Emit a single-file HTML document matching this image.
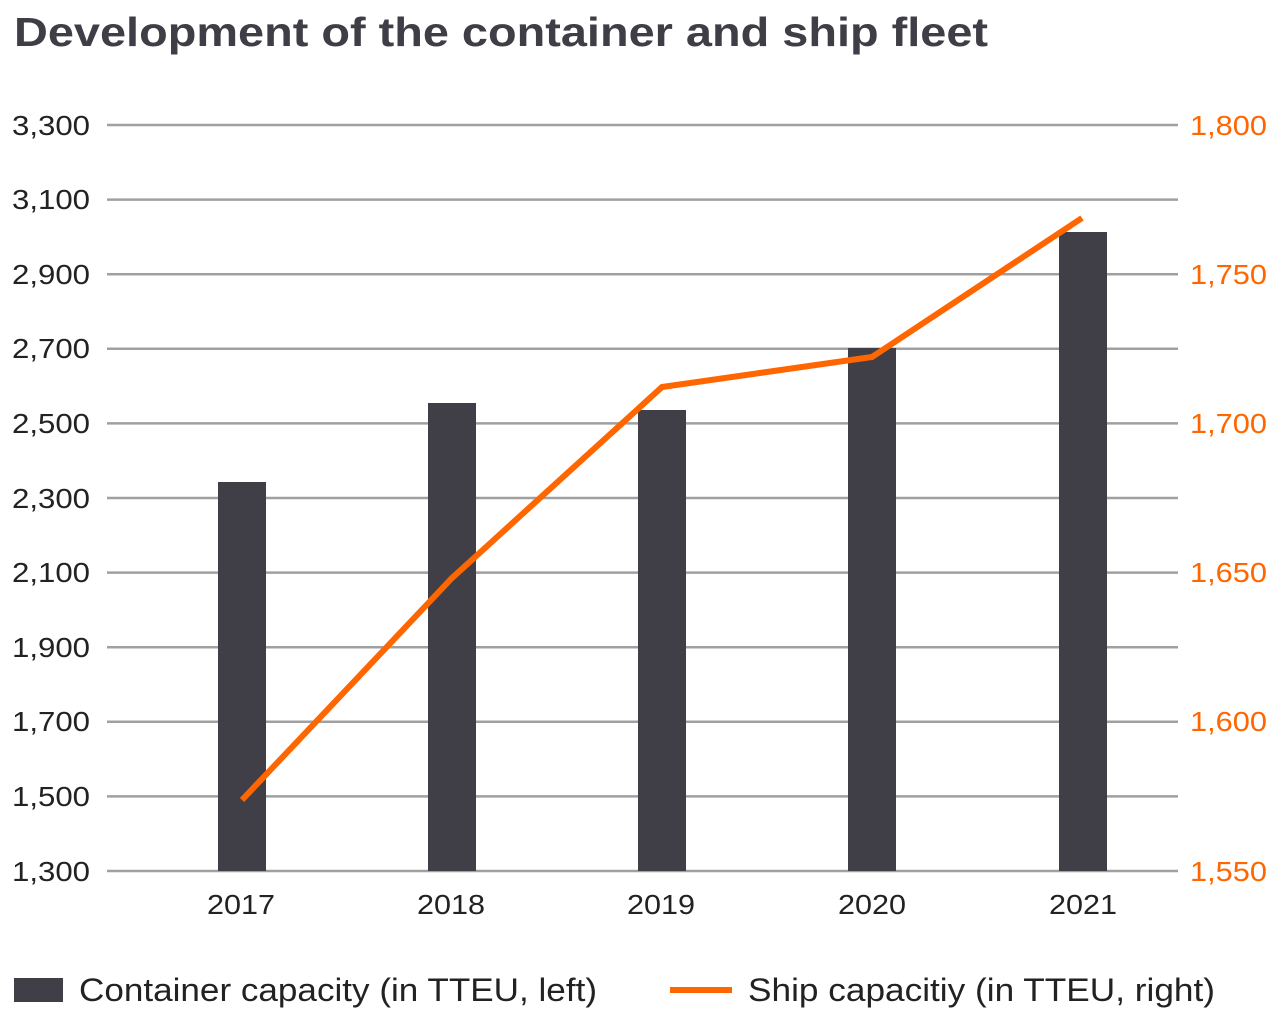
<!DOCTYPE html>
<html><head><style>
body{margin:0;background:#fff;}
svg{display:block;font-family:"Liberation Sans",Arial,sans-serif;}
</style></head><body>
<svg width="1282" height="1017" viewBox="0 0 1282 1017">
<text x="14" y="46" font-size="41" font-weight="bold" fill="#3f3e46" textLength="974" lengthAdjust="spacingAndGlyphs">Development of the container and ship fleet</text>
<g stroke="#a0a0a0" stroke-width="2.5">
<line x1="107" x2="1178" y1="125" y2="125"/>
<line x1="107" x2="1178" y1="199.6" y2="199.6"/>
<line x1="107" x2="1178" y1="274.2" y2="274.2"/>
<line x1="107" x2="1178" y1="348.8" y2="348.8"/>
<line x1="107" x2="1178" y1="423.4" y2="423.4"/>
<line x1="107" x2="1178" y1="498" y2="498"/>
<line x1="107" x2="1178" y1="572.6" y2="572.6"/>
<line x1="107" x2="1178" y1="647.2" y2="647.2"/>
<line x1="107" x2="1178" y1="721.8" y2="721.8"/>
<line x1="107" x2="1178" y1="796.4" y2="796.4"/>
<line x1="107" x2="1178" y1="871" y2="871"/>
</g>
<g font-size="28" fill="#222">
<text x="12" y="135" textLength="78" lengthAdjust="spacingAndGlyphs">3,300</text>
<text x="12" y="209" textLength="78" lengthAdjust="spacingAndGlyphs">3,100</text>
<text x="12" y="284" textLength="78" lengthAdjust="spacingAndGlyphs">2,900</text>
<text x="12" y="358" textLength="78" lengthAdjust="spacingAndGlyphs">2,700</text>
<text x="12" y="433" textLength="78" lengthAdjust="spacingAndGlyphs">2,500</text>
<text x="12" y="508" textLength="78" lengthAdjust="spacingAndGlyphs">2,300</text>
<text x="12" y="582" textLength="78" lengthAdjust="spacingAndGlyphs">2,100</text>
<text x="12" y="657" textLength="78" lengthAdjust="spacingAndGlyphs">1,900</text>
<text x="12" y="731" textLength="78" lengthAdjust="spacingAndGlyphs">1,700</text>
<text x="12" y="806" textLength="78" lengthAdjust="spacingAndGlyphs">1,500</text>
<text x="12" y="881" textLength="78" lengthAdjust="spacingAndGlyphs">1,300</text>
</g>
<g font-size="28" fill="#ff6600">
<text x="1190" y="135" textLength="77" lengthAdjust="spacingAndGlyphs">1,800</text>
<text x="1190" y="284" textLength="77" lengthAdjust="spacingAndGlyphs">1,750</text>
<text x="1190" y="433" textLength="77" lengthAdjust="spacingAndGlyphs">1,700</text>
<text x="1190" y="582" textLength="77" lengthAdjust="spacingAndGlyphs">1,650</text>
<text x="1190" y="731" textLength="77" lengthAdjust="spacingAndGlyphs">1,600</text>
<text x="1190" y="881" textLength="77" lengthAdjust="spacingAndGlyphs">1,550</text>
</g>
<g fill="#403f48">
<rect x="218" y="482" width="48" height="389"/>
<rect x="428" y="403" width="48" height="468"/>
<rect x="638" y="410" width="48" height="461"/>
<rect x="848" y="348" width="48" height="523"/>
<rect x="1059" y="232" width="48" height="639"/>
</g>
<polyline points="242,800 452,578 662,387 872,357 1082,218" fill="none" stroke="#ff6600" stroke-width="6"/>
<g font-size="28" fill="#222">
<text x="207" y="914" textLength="68" lengthAdjust="spacingAndGlyphs">2017</text>
<text x="417" y="914" textLength="68" lengthAdjust="spacingAndGlyphs">2018</text>
<text x="627" y="914" textLength="68" lengthAdjust="spacingAndGlyphs">2019</text>
<text x="838" y="914" textLength="68" lengthAdjust="spacingAndGlyphs">2020</text>
<text x="1049" y="914" textLength="68" lengthAdjust="spacingAndGlyphs">2021</text>
</g>
<rect x="14" y="978" width="49" height="24" fill="#403f48"/>
<text x="79" y="1001" font-size="32" fill="#222" textLength="518" lengthAdjust="spacingAndGlyphs">Container capacity (in TTEU, left)</text>
<line x1="670" x2="732" y1="990" y2="990" stroke="#ff6600" stroke-width="6"/>
<text x="748" y="1001" font-size="32" fill="#222" textLength="467" lengthAdjust="spacingAndGlyphs">Ship capacitiy (in TTEU, right)</text>
</svg>
</body></html>
